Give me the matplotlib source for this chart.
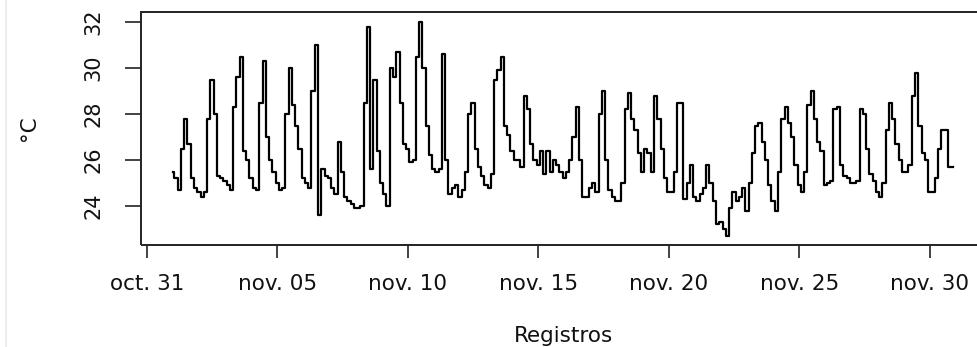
import matplotlib
matplotlib.use('Agg')
import matplotlib.pyplot as plt
import matplotlib.dates as mdates
from matplotlib.lines import Line2D
import pandas as pd

### Readings every 3 h (00, 03, ... 21 h), one row per day, Nov 1 - Nov 30
temps = [
    25.5, 25.2, 24.7, 26.5, 27.8, 26.7, 25.2, 24.8,   # nov 01
    24.6, 24.4, 24.6, 27.8, 29.5, 28.0, 25.3, 25.2,   # nov 02
    25.1, 24.9, 24.7, 28.3, 29.6, 30.5, 26.4, 26.0,   # nov 03
    25.2, 24.8, 24.7, 28.5, 30.3, 27.0, 26.0, 25.5,   # nov 04
    25.0, 24.7, 24.8, 28.0, 30.0, 28.4, 27.5, 26.5,   # nov 05
    25.2, 25.0, 24.8, 29.0, 31.0, 23.6, 25.6, 25.3,   # nov 06
    25.2, 24.8, 24.5, 26.8, 25.5, 24.4, 24.2, 24.1,   # nov 07
    23.9, 23.9, 24.0, 28.5, 31.8, 25.6, 29.5, 26.4,   # nov 08
    25.0, 24.5, 24.0, 30.0, 29.6, 30.7, 28.5, 26.7,   # nov 09
    26.5, 25.9, 26.0, 30.5, 32.0, 30.0, 27.5, 26.2,   # nov 10
    25.6, 25.5, 25.6, 30.6, 26.0, 24.5, 24.8, 24.9,   # nov 11
    24.4, 24.7, 25.5, 28.0, 28.5, 26.5, 25.7, 25.3,   # nov 12
    24.9, 24.8, 25.4, 29.5, 29.9, 30.5, 27.5, 27.1,   # nov 13
    26.4, 26.0, 26.0, 25.7, 28.8, 28.2, 26.7, 26.0,   # nov 14
    25.8, 26.4, 25.4, 26.4, 25.5, 26.0, 25.8, 25.5,   # nov 15
    25.2, 25.5, 26.0, 27.0, 28.3, 26.0, 24.4, 24.4,   # nov 16
    24.8, 25.0, 24.6, 28.0, 29.0, 26.0, 24.7, 24.4,   # nov 17
    24.2, 24.2, 25.0, 28.2, 28.9, 27.8, 27.3, 26.3,   # nov 18
    25.5, 26.5, 26.3, 25.5, 28.8, 27.8, 26.5, 25.2,   # nov 19
    24.6, 24.6, 25.5, 28.5, 28.5, 24.3, 25.0, 25.8,   # nov 20
    24.4, 24.2, 24.5, 24.8, 25.8, 25.0, 24.2, 23.2,   # nov 21
    23.3, 23.0, 22.7, 23.9, 24.6, 24.2, 24.4, 24.8,   # nov 22
    23.8, 25.0, 26.3, 27.5, 27.6, 26.8, 26.0, 24.9,   # nov 23
    24.2, 23.8, 25.5, 27.8, 28.3, 27.6, 27.0, 25.8,   # nov 24
    24.9, 24.6, 25.5, 28.4, 29.0, 27.8, 26.8, 26.4,   # nov 25
    24.9, 25.0, 25.1, 28.2, 28.3, 25.8, 25.3, 25.2,   # nov 26
    25.0, 25.0, 25.1, 28.2, 28.0, 26.5, 25.4, 25.1,   # nov 27
    24.6, 24.4, 25.0, 27.3, 28.5, 27.8, 26.7, 26.0,   # nov 28
    25.5, 25.5, 25.8, 28.8, 29.8, 27.5, 26.3, 26.0,   # nov 29
    24.6, 24.6, 25.2, 26.5, 27.3, 27.3, 25.7, 25.7,   # nov 30
]
times = pd.date_range('2019-11-01 00:00', periods=len(temps), freq='3h')

tick_dates = pd.to_datetime(['2019-10-31', '2019-11-05', '2019-11-10', '2019-11-15',
                             '2019-11-20', '2019-11-25', '2019-11-30'])
tick_labels = ['oct. 31', 'nov. 05', 'nov. 10', 'nov. 15', 'nov. 20', 'nov. 25', 'nov. 30']
y_ticks = [24, 26, 28, 30, 32]

plt.rcParams['font.family'] = ['DejaVu Sans']

fig = plt.figure(figsize=(9.78, 3.47), dpi=100)
# plot region in pixels: left 141.5, right 985 (past the edge), top 12, bottom 244.5
ax = fig.add_axes([141.5 / 978, (347 - 244.5) / 347, (985 - 141.5) / 978, (244.5 - 12) / 347])

ax.plot(times, temps, color='black', lw=1.6, drawstyle='steps-mid')

### Axis limits (R style padding)
x0 = mdates.date2num(pd.Timestamp('2019-10-31')) - 5.2 / 26.1
ax.set_xlim(x0, x0 + 843.5 / 26.1)
ax.set_ylim(22.326, 32.435)

ax.set_xticks(mdates.date2num(tick_dates))
ax.set_xticklabels(tick_labels, fontsize=15.5, color='#111111')
ax.set_yticks(y_ticks)
ax.set_yticklabels([str(v) for v in y_ticks], fontsize=15, rotation=90, va='center',
                   color='#111111')
ax.tick_params(axis='x', length=9, width=1.2, pad=12, colors='#222222', labelcolor='#111111')
ax.tick_params(axis='y', length=11.5, width=1.2, pad=16, colors='#222222', labelcolor='#111111')

for side in ['left', 'bottom', 'top', 'right']:
    ax.spines[side].set_linewidth(1.4)
    ax.spines[side].set_color('#222222')

ax.set_xlabel('Registros', fontsize=15.5, labelpad=23, color='#111111')
ax.set_ylabel('°C', fontsize=15.5, labelpad=32, color='#111111')

### light frame line at the left edge of the screenshot
fig.add_artist(Line2D([6 / 978, 6 / 978], [0, 1], color='#eeeeee', lw=1.6))

fig.savefig('out.png', dpi=100)
